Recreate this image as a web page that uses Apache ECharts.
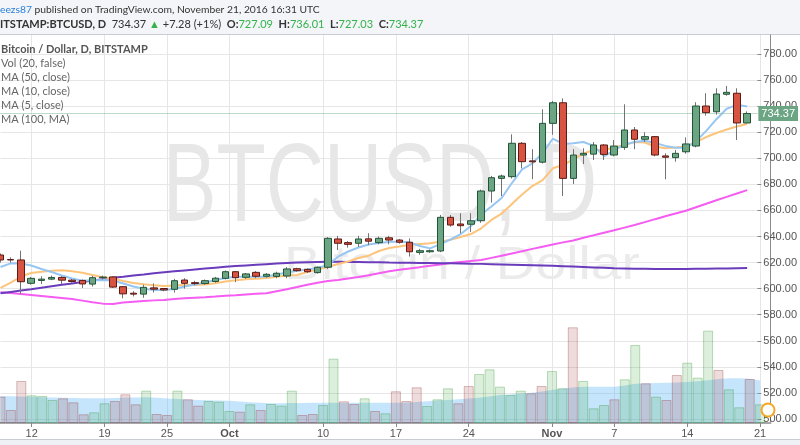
<!DOCTYPE html>
<html><head><meta charset="utf-8">
<script src="https://cdn.jsdelivr.net/npm/echarts@6/dist/echarts.min.js"></script>
<style>html,body{margin:0;padding:0;background:#fff}#c{width:800px;height:445px}</style>
</head><body><div id="c"></div>
<script>
const dates = ['Sep 9','Sep 10','Sep 11','Sep 12','Sep 13','Sep 14','Sep 15','Sep 16','Sep 17','Sep 18','Sep 19','Sep 20','Sep 21','Sep 22','Sep 23','Sep 24','Sep 25','Sep 26','Sep 27','Sep 28','Sep 29','Sep 30',
'Oct 1','Oct 2','Oct 3','Oct 4','Oct 5','Oct 6','Oct 7','Oct 8','Oct 9','Oct 10','Oct 11','Oct 12','Oct 13','Oct 14','Oct 15','Oct 16','Oct 17','Oct 18','Oct 19','Oct 20','Oct 21','Oct 22','Oct 23','Oct 24','Oct 25','Oct 26','Oct 27','Oct 28','Oct 29','Oct 30','Oct 31',
'Nov 1','Nov 2','Nov 3','Nov 4','Nov 5','Nov 6','Nov 7','Nov 8','Nov 9','Nov 10','Nov 11','Nov 12','Nov 13','Nov 14','Nov 15','Nov 16','Nov 17','Nov 18','Nov 19','Nov 20','Nov 21','Nov 22'];

const open = [625.8, 622.3, 622.0, 604.1, 606.3, 607.3, 608.6, 606.5, 606.3, 603.5,
 608.4, 609.0, 601.5, 596.5, 595.8, 600.6, 600.1, 599.5, 606.6, 604.6,
 603.9, 605.5, 607.9, 613.0, 608.7, 612.5, 609.5, 609.4, 609.7, 615.3,
 614.8, 612.3, 616.4, 638.1, 635.3, 634.8, 638.2, 635.3, 639.0, 637.3,
 635.6, 627.8, 628.3, 628.9, 654.7, 649.6, 649.4, 652.1, 674.9, 684.6,
 685.9, 711.5, 698.0, 697.0, 726.8, 742.6, 684.6, 702.5, 703.2, 710.2,
 702.5, 708.4, 721.7, 714.6, 716.6, 701.8, 700.5, 705.0, 709.4, 740.1,
 735.7, 749.1, 749.9, 727.09];
const close = [622.0, 622.0, 605.3, 607.9, 607.3, 608.6, 606.5, 605.5, 603.6, 608.4,
 608.9, 601.2, 596.0, 595.8, 601.0, 599.6, 599.0, 606.1, 604.1, 603.9,
 606.1, 608.0, 613.0, 608.4, 611.3, 609.5, 611.0, 611.8, 615.1, 613.8,
 613.0, 616.4, 638.6, 634.8, 634.0, 638.1, 636.4, 638.6, 637.3, 635.6,
 628.3, 629.1, 629.1, 654.7, 648.8, 648.3, 652.1, 674.9, 685.1, 686.4,
 711.5, 697.4, 697.3, 726.8, 742.6, 684.6, 702.5, 703.8, 710.2, 703.0,
 709.4, 721.7, 714.6, 716.6, 702.5, 700.8, 703.8, 711.0, 740.1, 735.0,
 749.3, 750.6, 727.09, 734.37];
const low = [620.0, 620.0, 596.0, 603.0, 603.5, 606.5, 603.5, 604.5, 600.5, 601.6,
 607.0, 600.5, 592.6, 594.0, 593.0, 597.0, 598.0, 597.0, 600.0, 602.5,
 603.0, 604.5, 607.0, 605.0, 607.5, 608.0, 608.5, 608.0, 608.0, 613.0,
 612.0, 611.5, 615.0, 629.6, 631.5, 632.0, 633.5, 634.0, 634.0, 634.5,
 624.6, 626.0, 627.5, 628.0, 647.5, 642.5, 643.5, 650.5, 666.0, 671.0,
 684.5, 692.3, 684.0, 696.0, 718.0, 671.0, 680.2, 695.6, 698.7, 698.7,
 701.5, 706.4, 707.0, 712.5, 701.5, 683.9, 697.4, 703.5, 708.4, 732.7,
 733.5, 748.0, 714.0, 727.03];
const high = [627.0, 624.0, 629.1, 609.0, 609.5, 610.0, 609.5, 607.5, 607.0, 609.8,
 610.0, 609.5, 602.0, 598.0, 603.0, 604.0, 600.5, 607.5, 608.0, 606.0,
 607.0, 609.0, 614.0, 613.5, 612.0, 613.5, 612.0, 613.0, 616.5, 616.0,
 615.5, 617.0, 639.5, 640.4, 636.5, 640.5, 642.5, 640.0, 640.5, 638.0,
 638.5, 630.5, 630.0, 656.5, 656.5, 657.8, 657.8, 676.0, 686.5, 687.5,
 718.4, 712.5, 707.0, 737.6, 744.0, 746.0, 707.0, 707.7, 712.5, 711.0,
 714.0, 741.4, 724.0, 720.0, 717.0, 703.8, 706.4, 716.0, 743.0, 749.9,
 753.7, 755.5, 753.7, 736.01];
const volume = [5260, 2600, 8400, 5540, 5400, 4600, 4940, 4140, 1740, 2140,
 3940, 4400, 5740, 3740, 6460, 1800, 1600, 6460, 4740, 3460,
 4400, 4260, 2400, 2260, 3740, 2600, 3800, 3460, 6460, 1600,
 1800, 3600, 12860, 4340, 3800, 4940, 2400, 1940, 6340, 4400,
 7140, 3400, 4740, 6940, 3940, 7400, 9800, 10740, 7260, 5600,
 6460, 5940, 7400, 10400, 6940, 19140, 8400, 2940, 3600, 4740,
 8740, 15600, 7940, 5260, 4600, 9600, 12060, 9060, 18460, 10600,
 6740, 3140, 8800, 3740];
const volMA20 = [5400, 5360, 5300, 5240, 5160, 5100, 5040, 5000, 4960, 4940,
 4940, 5000, 5080, 5120, 5140, 5040, 4900, 4800, 4700, 4600,
 4540, 4480, 4440, 4300, 4160, 4040, 3940, 3940, 4000, 4020,
 4040, 4060, 4060, 4060, 4060, 4060, 4060, 4060, 4060, 4100,
 4200, 4340, 4500, 4600, 4760, 4880, 5040, 5300, 5600, 5700,
 5900, 6060, 6300, 6600, 6900, 7100, 7260, 7260, 7260, 7260,
 7500, 7840, 7960, 8000, 8040, 8100, 8200, 8340, 8540, 8800,
 8940, 8940, 8840, 8500];
const ma5 = [616.6, 619.4, 619.3, 617.8, 615.1, 612.8, 610.1, 607.8, 606.1, 606.4,
 606.6, 606.3, 604.0, 601.6, 599.9, 599.0, 599.0, 599.7, 601.6, 603.2,
 604.7, 606.6, 608.2, 609.2, 609.2, 609.2, 609.3, 610.9, 612.4, 613.8,
 614.7, 615.8, 618.1, 624.5, 628.5, 631.6, 633.9, 635.0, 635.8, 636.2,
 635.4, 632.7, 630.9, 634.2, 637.7, 641.9, 648.0, 657.0, 663.0, 669.5,
 681.0, 691.5, 696.0, 704.0, 715.0, 711.0, 711.5, 712.5, 709.5, 701.5,
 706.0, 710.5, 712.5, 713.4, 711.8, 709.5, 708.0, 708.0, 713.0, 721.0,
 730.0, 738.0, 741.0, 739.8];
const ma10 = [600.5, 604.7, 609.3, 612.0, 613.0, 613.7, 614.1, 613.3, 612.2, 610.5,
 608.7, 607.7, 605.9, 604.3, 603.3, 602.6, 602.0, 602.5, 602.8, 602.8,
 603.1, 604.2, 605.5, 606.4, 607.2, 607.6, 608.2, 609.2, 610.1, 610.5,
 612.8, 614.7, 616.6, 618.9, 620.8, 623.5, 625.3, 628.9, 631.2, 632.3,
 633.6, 634.2, 634.8, 636.0, 637.5, 639.6, 641.9, 646.3, 652.7, 657.6,
 664.9, 672.2, 678.7, 683.3, 692.3, 694.8, 699.1, 703.7, 706.4, 706.4,
 708.3, 710.2, 712.5, 712.1, 709.0, 707.7, 708.3, 709.0, 712.5, 716.3,
 719.4, 722.1, 724.4, 726.3];
const ma50 = [597.2, 596.6, 595.9, 595.2, 594.4, 593.6, 592.8, 592.0, 590.8, 589.6,
 588.5, 588.3, 589.3, 590.0, 590.5, 591.0, 591.3, 592.0, 592.6, 593.0,
 593.4, 593.9, 594.5, 595.0, 595.6, 596.1, 596.5, 598.0, 599.5, 601.2,
 603.0, 604.5, 605.8, 606.6, 607.8, 609.0, 610.3, 611.8, 613.3, 614.5,
 615.5, 616.5, 617.6, 618.6, 619.6, 620.4, 621.2, 622.0, 623.6, 625.3,
 627.0, 628.7, 630.5, 632.2, 633.9, 635.5, 637.0, 639.1, 640.9, 642.9,
 644.8, 646.8, 648.8, 651.0, 653.3, 655.5, 657.6, 659.7, 662.4, 665.1,
 667.8, 670.4, 673.0, 675.6];
const ma100 = [596.4, 597.5, 598.6, 599.6, 600.7, 601.8, 602.9, 604.0, 605.1, 606.2,
 607.3, 608.4, 609.2, 610.1, 610.9, 611.8, 612.6, 613.3, 614.0, 614.7,
 615.4, 616.1, 616.8, 617.3, 617.8, 618.3, 618.8, 619.2, 619.6, 620.0,
 620.3, 620.5, 620.6, 620.6, 620.5, 620.4, 620.3, 620.2, 620.0, 619.9,
 619.8, 619.7, 619.6, 619.5, 619.4, 619.3, 619.1, 619.0, 618.8, 618.6,
 618.4, 618.2, 618.0, 617.8, 617.5, 617.2, 616.9, 616.6, 616.3, 616.0,
 615.7, 615.5, 615.3, 615.2, 615.1, 615.1, 615.1, 615.1, 615.2, 615.3,
 615.4, 615.5, 615.7, 615.9];

const tickDates = ['Sep 12','Sep 19','Sep 25','Oct 1','Oct 10','Oct 17','Oct 24','Nov 1','Nov 7','Nov 14','Nov 21'];
const tickLabels = ['12','19','25','Oct','10','17','24','Nov','7','14','21'];
const lastPrice = 734.37;

const UP = '#6ba583', DOWN = '#d75442', UPB = '#225437', DOWNB = '#5b1a13', WICK = '#737375';
const isTick = (i, v) => tickDates.indexOf(v) >= 0;

const ohlc = open.map((o, i) => [o, close[i], low[i], high[i]]);
const bodies = open.map((o, i) => [o, close[i], Math.min(o, close[i]), Math.max(o, close[i])]);
const volBars = volume.map((v, i) => {
  const up = close[i] >= open[i];
  return { value: v, itemStyle: {
    color: up ? 'rgba(40,150,40,0.16)' : 'rgba(150,40,40,0.16)',
    borderColor: up ? 'rgba(40,150,40,0.3)' : 'rgba(150,40,40,0.3)', borderWidth: 1 } };
});

const FONT = 'Liberation Sans, Arial, sans-serif';
const chart = echarts.init(document.getElementById('c'), null, { renderer: 'canvas' });
const L = 0.5, W = 770;
chart.setOption({
  animation: false,
  backgroundColor: '#ffffff',
  textStyle: { fontFamily: FONT },
  grid: [
    { left: L, width: W, top: 54, height: 365 },
    { left: L, width: W, top: 35, height: 388 }
  ],
  xAxis: [
    { gridIndex: 0, type: 'category', data: dates, boundaryGap: false, show: false },
    { gridIndex: 1, type: 'category', data: dates, boundaryGap: false,
      axisLine: { lineStyle: { color: '#a8a8a8', width: 2 } },
      axisTick: { interval: isTick, length: 4, lineStyle: { color: '#888' } },
      axisLabel: { interval: isTick, color: '#555', fontSize: 11, margin: 5,
        formatter: v => { const t = tickLabels[tickDates.indexOf(v)]; return (t === 'Oct' || t === 'Nov') ? '{b|' + t + '}' : t; },
        rich: { b: { fontWeight: 'bold', color: '#555', fontSize: 11 } } },
      splitLine: { show: true, interval: isTick, lineStyle: { color: '#e6e6e6' } }
    }
  ],
  yAxis: [
    { gridIndex: 0, type: 'value', position: 'right', min: 500, max: 780, interval: 20,
      axisLine: { show: false },
      axisTick: { show: true, length: 4, lineStyle: { color: '#888' } },
      axisLabel: { formatter: v => v.toFixed(2), color: '#555', fontSize: 11, margin: 6 },
      splitLine: { lineStyle: { color: '#e6e6e6' } } },
    { gridIndex: 1, type: 'value', position: 'right', min: 0, max: 77600,
      axisLine: { show: true, lineStyle: { color: '#8a8a8a' } },
      axisTick: { show: false }, axisLabel: { show: false }, splitLine: { show: false } }
  ],
  graphic: [
    { type: 'rect', shape: { x: 0, y: 0, width: 800, height: 35 }, style: { fill: '#f3f5f8' }, z: 0 },
    { type: 'line', shape: { x1: 0, y1: 34.5, x2: 800, y2: 34.5 }, style: { stroke: '#c8ccd2', lineWidth: 1 }, z: 0 },
    { type: 'rect', shape: { x: 0, y: 440, width: 800, height: 5 }, style: { fill: '#eef1f5' }, z: 0 },
    { type: 'line', shape: { x1: 0, y1: 439.5, x2: 800, y2: 439.5 }, style: { stroke: '#c8ccd2', lineWidth: 1 }, z: 0 },
    { type: 'text', x: 0, y: 10, z: 5, style: { text: '{u|eezs87} published on TradingView.com, November 21, 2016 16:31 UTC',
      font: '10.3px Lato', fill: '#333', verticalAlign: 'middle',
      rich: { u: { fill: '#2a80d6', fontSize: 10.3, fontFamily: 'Lato' } } } },
    { type: 'text', x: 0, y: 24, z: 5, style: { text: '{b|ITSTAMP:BTCUSD, D}  734.37 {g|▲} +7.28 (+1%)  {b|O:}{g|727.09}  {b|H:}{g|736.01}  {b|L:}{g|727.03}  {b|C:}{g|734.37}',
      font: '11px Lato', fill: '#333', verticalAlign: 'middle',
      rich: { b: { fontWeight: 'bold', fill: '#333', fontSize: 11, fontFamily: 'Lato' }, g: { fill: '#33b34a', fontSize: 11, fontFamily: 'Lato' } } } },
    { type: 'text', x: 1, y: 49, z: 5, style: { text: 'Bitcoin / Dollar, D, BITSTAMP', font: 'bold 11px Lato', fill: '#555', verticalAlign: 'middle' } },
    { type: 'text', x: 1, y: 63, z: 5, style: { text: 'Vol (20, false)', font: '11px Lato', fill: '#666', verticalAlign: 'middle' } },
    { type: 'text', x: 1, y: 77.5, z: 5, style: { text: 'MA (50, close)', font: '11px Lato', fill: '#666', verticalAlign: 'middle' } },
    { type: 'text', x: 1, y: 91.5, z: 5, style: { text: 'MA (10, close)', font: '11px Lato', fill: '#666', verticalAlign: 'middle' } },
    { type: 'text', x: 1, y: 105.5, z: 5, style: { text: 'MA (5, close)', font: '11px Lato', fill: '#666', verticalAlign: 'middle' } },
    { type: 'text', x: 1, y: 119, z: 5, style: { text: 'MA (100, MA)', font: '11px Lato', fill: '#666', verticalAlign: 'middle' } },
    { type: 'text', x: 380, y: 190, z: 1, scaleX: 0.72, style: { text: 'BTCUSD, D', font: '112px Liberation Sans', fill: '#e7e7e7', align: 'center', verticalAlign: 'middle' } },
    { type: 'text', x: 462, y: 266, z: 1, scaleX: 1.2, style: { text: 'Bitcoin / Dollar', font: '46px Liberation Sans', fill: '#ebebeb', align: 'center', verticalAlign: 'middle' } },
    { type: 'circle', shape: { cx: 768, cy: 410, r: 6.5 }, style: { fill: '#fff', stroke: '#f5a623', lineWidth: 2 }, z: 20 }
  ],
  series: [
    { name: 'Vol MA', type: 'line', xAxisIndex: 1, yAxisIndex: 1, data: volMA20, showSymbol: false, silent: true,
      lineStyle: { width: 0 }, areaStyle: { color: 'rgba(95,185,248,0.52)' }, z: 2 },
    { name: 'Vol', type: 'bar', xAxisIndex: 1, yAxisIndex: 1, data: volBars, barWidth: 10, silent: true, z: 3 },
    { name: 'MA50', type: 'line', xAxisIndex: 0, yAxisIndex: 0, data: ma50, showSymbol: false, lineStyle: { color: '#f55cf2', width: 2 }, z: 4 },
    { name: 'MA100', type: 'line', xAxisIndex: 0, yAxisIndex: 0, data: ma100, showSymbol: false, lineStyle: { color: '#6a3cbc', width: 2 }, z: 4 },
    { name: 'MA10', type: 'line', xAxisIndex: 0, yAxisIndex: 0, data: ma10, showSymbol: false, lineStyle: { color: '#fdc47c', width: 2 }, z: 4 },
    { name: 'MA5', type: 'line', xAxisIndex: 0, yAxisIndex: 0, data: ma5, showSymbol: false, lineStyle: { color: '#97c6f2', width: 2 }, z: 4 },
    { name: 'wick', type: 'candlestick', xAxisIndex: 0, yAxisIndex: 0, data: ohlc, barWidth: 1, z: 5,
      itemStyle: { color: WICK, color0: WICK, borderColor: WICK, borderColor0: WICK, borderWidth: 1 } },
    { name: 'BTCUSD', type: 'candlestick', xAxisIndex: 0, yAxisIndex: 0, data: bodies, barWidth: 7, z: 6,
      itemStyle: { color: UP, color0: DOWN, borderColor: UPB, borderColor0: DOWNB, borderWidth: 1 },
      markLine: { symbol: 'none', silent: true, data: [{ yAxis: lastPrice }],
        lineStyle: { color: '#7dbb92', type: 'dotted', width: 1 },
        label: { show: true, position: 'end', formatter: '{c}', backgroundColor: UP, color: '#fff', fontSize: 11, padding: [2, 3, 2, 3], distance: 1 } } }
  ]
});
</script></body></html>
